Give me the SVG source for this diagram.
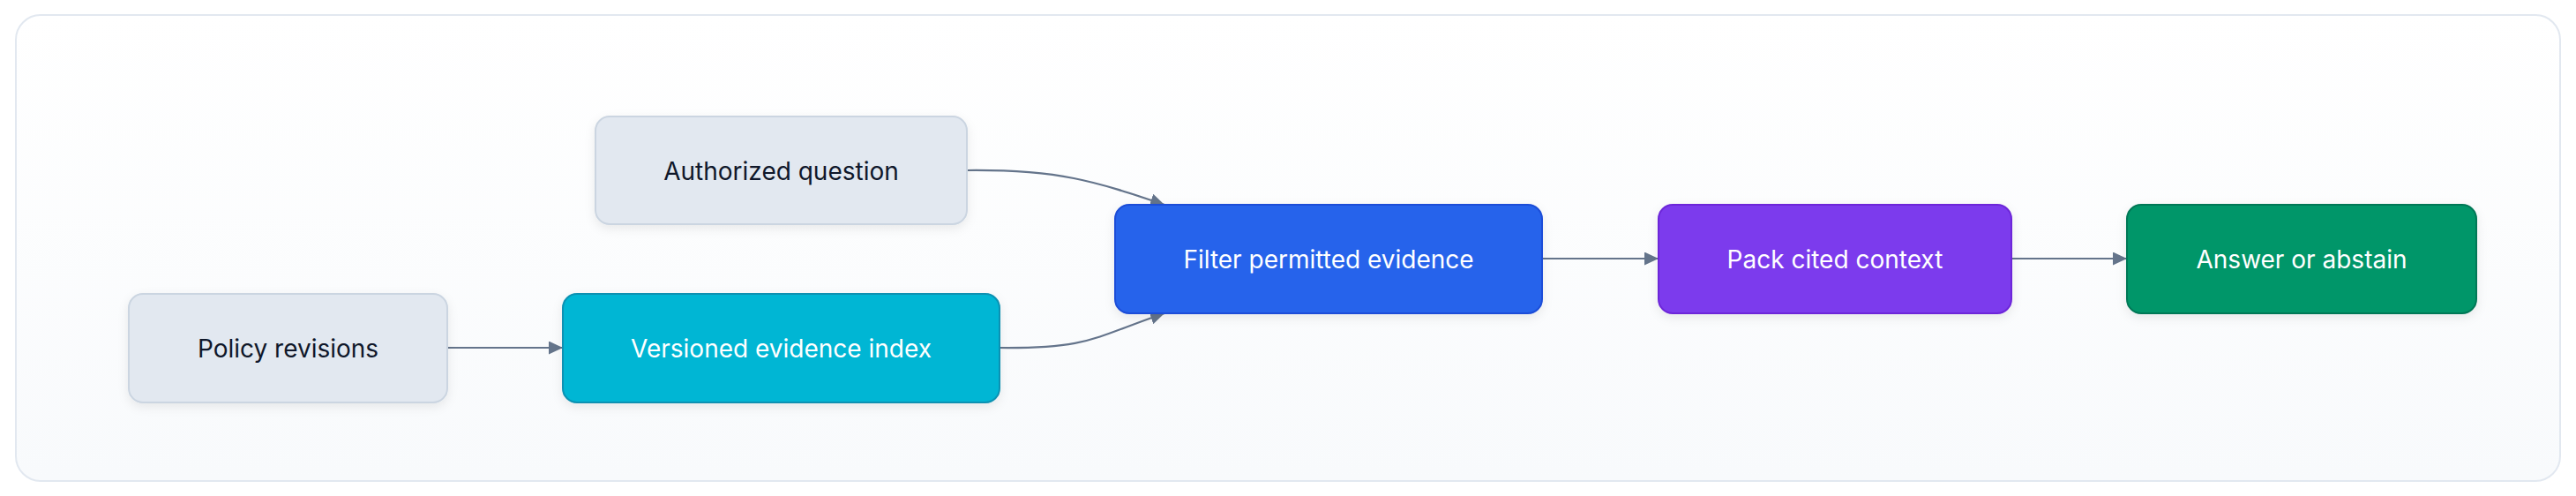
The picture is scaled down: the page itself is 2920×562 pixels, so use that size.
<svg xmlns="http://www.w3.org/2000/svg" width="2920" height="562" viewBox="0 0 2920 562">
<style>
  .lbl{font-family:Inter,"Noto Sans","Liberation Sans",sans-serif;font-size:28px;text-anchor:middle;dominant-baseline:central}
  .dark{fill:#0f172a}
  .light{fill:#ffffff}
  .edge{fill:none;stroke:#64748b;stroke-width:2.2}
  .n{stroke-width:2}
</style>
<defs>
  <linearGradient id="bg" x1="0" y1="0" x2="0" y2="1">
    <stop offset="0" stop-color="#ffffff"/>
    <stop offset="1" stop-color="#f8fafc"/>
  </linearGradient>
  <filter id="sh" x="-10%" y="-20%" width="120%" height="150%">
    <feDropShadow dx="0" dy="4" stdDeviation="6" flood-color="#0f172a" flood-opacity="0.08"/>
  </filter>
  <marker id="arr" viewBox="0 0 16 15" refX="16" refY="7.5" markerWidth="16" markerHeight="15" markerUnits="userSpaceOnUse" orient="auto">
    <path d="M0,0 L16,7.5 L0,15 z" fill="#64748b"/>
  </marker>
</defs>
<rect x="0" y="0" width="2920" height="562" fill="#ffffff"/>
<rect x="18" y="17" width="2884" height="528" rx="28" fill="url(#bg)" stroke="#e2e8f0" stroke-width="2"/>

<g id="connectors">
  <path class="edge" d="M507,394 L638,394" marker-end="url(#arr)"/>
  <path class="edge" d="M1097,193 C1200,192 1240,205 1320,232" marker-end="url(#arr)"/>
  <path class="edge" d="M1133,394 C1236,395 1240,382 1320,355" marker-end="url(#arr)"/>
  <path class="edge" d="M1748,293 L1880,293" marker-end="url(#arr)"/>
  <path class="edge" d="M2280,293 L2411,293" marker-end="url(#arr)"/>
</g>

<g id="policy">
  <rect class="n" x="146" y="333" width="361" height="123" rx="16" fill="#e2e8f0" stroke="#cbd5e1" filter="url(#sh)"/>
  <text class="lbl dark" x="326.5" y="395">Policy revisions</text>
</g>
<g id="authorized">
  <rect class="n" x="675" y="132" width="421" height="122" rx="16" fill="#e2e8f0" stroke="#cbd5e1" filter="url(#sh)"/>
  <text class="lbl dark" x="885.5" y="194">Authorized question</text>
</g>
<g id="versioned">
  <rect class="n" x="638" y="333" width="495" height="123" rx="16" fill="#06b6d4" stroke="#0891b2" filter="url(#sh)"/>
  <text class="lbl light" x="885.5" y="395">Versioned evidence index</text>
</g>
<g id="filter">
  <rect class="n" x="1264" y="232" width="484" height="123" rx="16" fill="#2563eb" stroke="#1d4ed8" filter="url(#sh)"/>
  <text class="lbl light" x="1506" y="294">Filter permitted evidence</text>
</g>
<g id="pack">
  <rect class="n" x="1880" y="232" width="400" height="123" rx="16" fill="#7c3aed" stroke="#6d28d9" filter="url(#sh)"/>
  <text class="lbl light" x="2080" y="294">Pack cited context</text>
</g>
<g id="answer">
  <rect class="n" x="2411" y="232" width="396" height="123" rx="16" fill="#059669" stroke="#047857" filter="url(#sh)"/>
  <text class="lbl light" x="2609" y="294">Answer or abstain</text>
</g>
</svg>
